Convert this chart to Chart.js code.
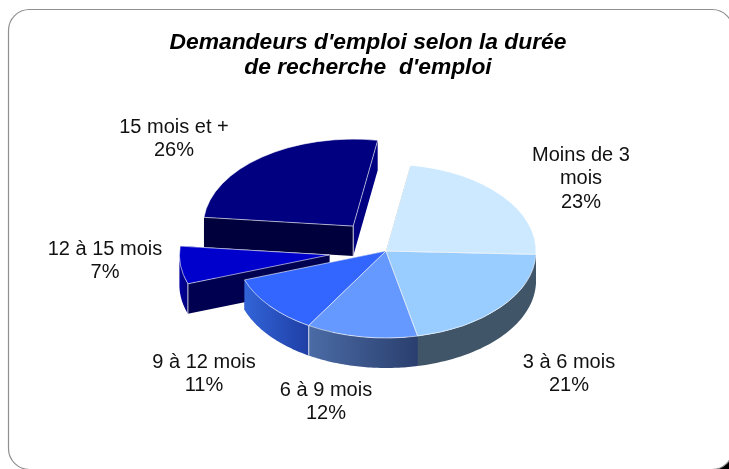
<!DOCTYPE html>
<html><head><meta charset="utf-8">
<style>html,body{margin:0;padding:0;background:#fff}#wrap{width:729px;height:469px;position:relative}</style>
<script src="https://cdn.jsdelivr.net/npm/chart.js@4"></script></head>
<body><div id="wrap"><canvas id="c" width="729" height="469"></canvas></div>
<script>
const categories = ["Moins de 3 mois","3 à 6 mois","6 à 9 mois","9 à 12 mois","12 à 15 mois","15 mois et +"];
const values = [23,21,12,11,7,26];
const titleLines = ["Demandeurs d'emploi selon la durée","de recherche  d'emploi"];
const labelLines = [["Moins de 3","mois","23%"],["3 à 6 mois","21%"],["6 à 9 mois","12%"],["9 à 12 mois","11%"],["12 à 15 mois","7%"],["15 mois et +","26%"]];
const topColors = ["#CCE9FF","#99CCFF","#6699FF","#3366FF","#0000CC","#000080"];
const rimFrom = ["#415568","#415568","#4B6BA6","#3264D8","#0000A0","#000080"];
const rimTo   = ["#415568","#415568","#2A3F6E","#1F3FA5","#00007A","#000080"];
const sideColors = ["#415568","#415568","#2A3F6E","#1F3FA5","#000050","#00003C"];
const endSideColors = ["#415568","#415568","#2A3F6E","#1F3FA5","#000050","#000080"];
const whiteEdge = ["","","rimEnd","","rimStart","apex"];
const sliceOffsets = [0,0,0,0,57,54];
const labelCenters = [[581,155],[569,362],[326,390],[204,362],[105,249],[174,127]];

const VIEW = {cx:386, cy:251, k:0.58, depth:30};
function project(chart,x,y,d){
  const a=chart.chartArea, px=(a.left+a.right)/2, py=(a.top+a.bottom)/2;
  return [x-px+VIEW.cx, VIEW.cy+VIEW.k*(y-py)+(d||0)];
}
function poly(ctx,pts,fill){
  ctx.beginPath();pts.forEach((p,i)=>i?ctx.lineTo(p[0],p[1]):ctx.moveTo(p[0],p[1]));ctx.closePath();
  ctx.fillStyle=fill;ctx.fill();
}
const frame3d = {
  id:'frame3d',
  beforeDraw(chart){
    const c=chart.ctx;c.save();
    c.fillStyle='#000';c.fillRect(700,440,29,29);
    c.beginPath();c.roundRect(8.5,9.5,724.5,460,21);
    c.fillStyle='#fff';c.fill();c.strokeStyle='#8f8f8f';c.lineWidth=1.2;c.stroke();
    c.restore();
  },
  beforeDatasetDraw(chart){
    const c=chart.ctx, arcs=chart.getDatasetMeta(0).data, a=chart.chartArea;
    const px=(a.left+a.right)/2, py=(a.top+a.bottom)/2;
    c.save();
    const order=[5,4,0,3,1,2];
    order.forEach(i=>{
      const el=arcs[i], p=el.getProps(['x','y','startAngle','endAngle','outerRadius']);
      const off=sliceOffsets[i], mid=(p.startAngle+p.endAngle)/2;
      const ox=p.x+Math.cos(mid)*off, oy=p.y+Math.sin(mid)*off, r=p.outerRadius;
      const at=(ang,d)=>project(chart,ox+r*Math.cos(ang),oy+r*Math.sin(ang),d);
      const apex=d=>project(chart,ox,oy,d), D=VIEW.depth;
      poly(c,[apex(0),at(p.endAngle,0),at(p.endAngle,D),apex(D)],endSideColors[i]);
      poly(c,[apex(0),at(p.startAngle,0),at(p.startAngle,D),apex(D)],sideColors[i]);
      let s=p.startAngle,e=p.endAngle;const T=Math.PI*2;
      while(s<0){s+=T;e+=T;}
      const s1=Math.max(s,0),e1=Math.min(e,Math.PI);
      if(e1>s1){
        const upper=[],lower=[],n=48;
        for(let j=0;j<=n;j++){const t=s1+(e1-s1)*j/n;upper.push(at(t,0));lower.unshift(at(t,D));}
        const xs=upper.map(q=>q[0]),g=c.createLinearGradient(Math.min(...xs),0,Math.max(...xs),0);
        g.addColorStop(0,rimFrom[i]);g.addColorStop(1,rimTo[i]);
        poly(c,upper.concat(lower),g);
      }
      const w=whiteEdge[i];
      if(w){
        const q=w==='apex'?apex:(d=>at(w==='rimEnd'?p.endAngle:p.startAngle,d));
        c.beginPath();c.moveTo(...q(0));c.lineTo(...q(D));c.strokeStyle='rgba(255,255,255,.8)';c.lineWidth=1;c.stroke();
      }
    });
    c.restore();
    const sh=project(chart,px,py);
    [5,4,3,2,1,0].forEach(i=>{
      const el=arcs[i], p=el.getProps(['startAngle','endAngle']), mid=(p.startAngle+p.endAngle)/2;
      c.save();
      c.translate(sh[0],sh[1]);c.scale(1,VIEW.k);c.translate(-px,-py);
      c.translate(Math.cos(mid)*sliceOffsets[i],Math.sin(mid)*sliceOffsets[i]);
      el.draw(c);
      c.restore();
    });
    return false;
  },
  afterDatasetsDraw(chart){
    const c=chart.ctx;
    c.save();
    c.fillStyle='#111';c.font='20px "Liberation Sans", Arial, sans-serif';c.textAlign='center';c.textBaseline='middle';
    labelLines.forEach((ls,i)=>ls.forEach((t,j)=>c.fillText(t,labelCenters[i][0],labelCenters[i][1]+j*23.5)));
    c.restore();
  }
};
new Chart(document.getElementById('c'),{
  type:'pie',
  data:{labels:categories,datasets:[{data:values,backgroundColor:topColors,borderColor:'rgba(255,255,255,.75)',borderWidth:1}]},
  plugins:[frame3d],
  options:{
    responsive:false,animation:false,rotation:9.4,radius:150,
    layout:{padding:{left:7,right:0,top:0,bottom:0}},
    plugins:{
      legend:{display:false},tooltip:{enabled:false},
      title:{display:true,text:titleLines,color:'#000',padding:{top:31,bottom:0},
        font:{family:'"Liberation Sans", Arial, sans-serif',size:22.8,style:'italic',weight:'bold',lineHeight:1.06}}
    }
  }
});
</script></body></html>
